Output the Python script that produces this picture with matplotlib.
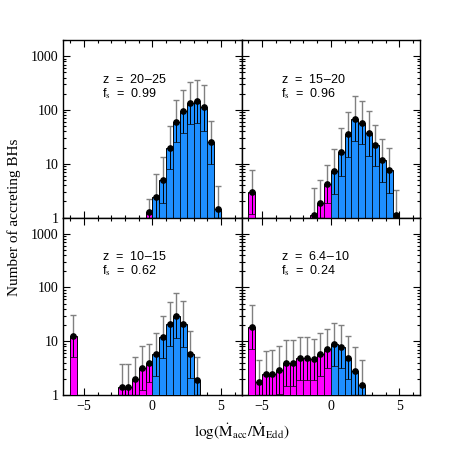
import numpy as np
import matplotlib
matplotlib.use("Agg")
import matplotlib.pyplot as plt
from matplotlib.ticker import FixedLocator, MultipleLocator, LogLocator, NullFormatter, FuncFormatter

plt.rcParams["font.family"] = ["Liberation Serif", "DejaVu Serif"]
plt.rcParams["mathtext.fontset"] = "stix"

# bin centres (bins 0.5 dex wide), mean counts, upper / lower error ends
x_a = [-0.25, 0.25, 0.75, 1.25, 1.75, 2.25, 2.75, 3.25, 3.75, 4.25, 4.75]
n_a = [1.27, 2.4, 5.0, 20, 61, 94, 132, 144, 115, 25, 1.43]
hi_a = [2.25, 6.5, 13.2, 50, 153, 235, 325, 360, 295, 63, 3.8]
lo_a = [0.7, 0.9, 1.85, 8.1, 25, 37, 55, 57, 40, 9.7, 0.55]

x_b = [-5.75, -1.25, -0.75, -0.25, 0.25, 0.75, 1.25, 1.75, 2.25, 2.75, 3.25, 3.75, 4.25, 4.75]
n_b = [2.98, 1.13, 1.86, 4.2, 7.2, 16.4, 35, 69, 58, 37, 22, 11.5, 7.5, 1.1]
hi_b = [7.5, 3.6, 4.9, 9.3, 19, 46, 90, 179, 144, 97, 53, 29, 20, 3.3]
lo_b = [1.18, 0.36, 0.71, 1.9, 2.7, 5.8, 13.6, 26.6, 23.4, 14.1, 9.1, 4.6, 2.8, 0.37]

x_c = [-5.75, -2.25, -1.75, -1.25, -0.75, -0.25, 0.25, 0.75, 1.25, 1.75, 2.25, 2.75, 3.25]
n_c = [12.5, 1.43, 1.39, 1.98, 3.16, 3.86, 5.7, 12, 21, 30, 21, 5.7, 1.9]
hi_c = [31, 3.7, 3.7, 5.1, 8.1, 8.7, 14.5, 30, 53, 78, 56, 15.5, 5.1]
lo_c = [5.0, 0.55, 0.52, 0.77, 1.23, 1.71, 2.24, 4.8, 8.3, 11.5, 7.9, 2.1, 0.71]

x_d = [-5.75, -5.25, -4.75, -4.25, -3.75, -3.25, -2.75, -2.25, -1.75, -1.25, -0.75, -0.25,
       0.25, 0.75, 1.25, 1.75, 2.25]
n_d = [18.4, 1.77, 2.45, 2.5, 2.9, 4.0, 4.0, 4.8, 4.8, 4.6, 5.7, 7.3, 8.7, 7.9, 4.9, 2.8, 1.53]
hi_d = [48, 4.45, 6.6, 6.8, 8.1, 10.7, 10.7, 12, 12, 11.2, 14.2, 16.7, 22, 20, 12.3, 7.9, 4.45]
lo_d = [7.05, 0.7, 0.91, 0.92, 1.04, 1.5, 1.5, 1.92, 1.92, 1.89, 2.29, 3.19, 3.44, 3.12, 1.95, 0.99, 0.53]

z_labels = ["20$-$25", "15$-$20", "10$-$15", "6.4$-$10"]
fs_labels = ["0.99", "0.96", "0.62", "0.24"]

panels = [(x_a, n_a, hi_a, lo_a), (x_b, n_b, hi_b, lo_b),
          (x_c, n_c, hi_c, lo_c), (x_d, n_d, hi_d, lo_d)]

fig = plt.figure(figsize=(4.58, 4.58), dpi=100)
L, B, W, H = 0.138, 0.1376, 0.3895, 0.3875
pos = [(L, B + H), (L + W, B + H), (L, B), (L + W, B)]

blue = "#1E8FFF"
mag = "#FF00FF"

for i, ((x, n, hi, lo), (px, py)) in enumerate(zip(panels, pos)):
    ax = fig.add_axes([px, py, W, H])
    x = np.array(x); n = np.array(n); hi = np.array(hi); lo = np.array(lo)
    cols = [mag if xi < 0 else blue for xi in x]
    ax.set_yscale("log")
    ax.errorbar(x, n, yerr=[np.zeros_like(n), hi - n], fmt="none", ecolor="#808080",
                elinewidth=1.0, capsize=2.5, capthick=1.0, zorder=1)
    ax.bar(x, n - 0.01, bottom=0.01, width=0.5, color=cols, edgecolor="k", linewidth=0.7, zorder=2)
    ax.bar(x, lo - 0.01, bottom=0.01, width=0.5, color=cols, edgecolor="k", linewidth=0.5, zorder=3)
    ax.vlines(x, lo, n, color="k", linewidth=0.7, zorder=4)
    ax.plot(x, n, "o", color="k", markersize=3.8, zorder=5)

    ax.set_xlim(-6.5, 6.5)
    ax.set_ylim(1, 2000)
    ax.xaxis.set_major_locator(FixedLocator([-5, 0, 5]))
    ax.xaxis.set_minor_locator(MultipleLocator(1))
    ax.yaxis.set_major_locator(FixedLocator([1, 10, 100, 1000]))
    ax.yaxis.set_minor_locator(LogLocator(base=10, subs=np.arange(2, 10)))
    ax.yaxis.set_minor_formatter(NullFormatter())
    ax.yaxis.set_major_formatter(FuncFormatter(lambda v, p: "%d" % v))
    ax.xaxis.set_major_formatter(FuncFormatter(lambda v, p: ("%d" % v).replace("-", "\u2212")))
    ax.tick_params(which="both", direction="in", top=True, right=True, labelsize=10)
    ax.tick_params(which="major", length=5, width=0.8)
    ax.tick_params(which="minor", length=2.5, width=0.8)
    if i < 2:
        ax.tick_params(labelbottom=False)
    if i % 2 == 1:
        ax.tick_params(labelleft=False)
    for s in ax.spines.values():
        s.set_linewidth(1.0)

    ax.text(0.22, 0.78, "z  =  " + z_labels[i], transform=ax.transAxes, fontsize=9,
            family=["Liberation Sans", "DejaVu Sans"], va="center")
    ax.text(0.22, 0.70, "f$_{\\rm s}$  =  " + fs_labels[i], transform=ax.transAxes, fontsize=9,
            family=["Liberation Sans", "DejaVu Sans"], va="center")

fig.text(0.03, B + H, "Number of accreting BHs", rotation=90, ha="center", va="center", fontsize=11)
fig.text(L + W, 0.058, r"$\log(\dot{\rm M}_{\rm acc}/\dot{\rm M}_{\rm Edd})$", ha="center",
         va="center", fontsize=11)

fig.savefig("out.png", dpi=100)
